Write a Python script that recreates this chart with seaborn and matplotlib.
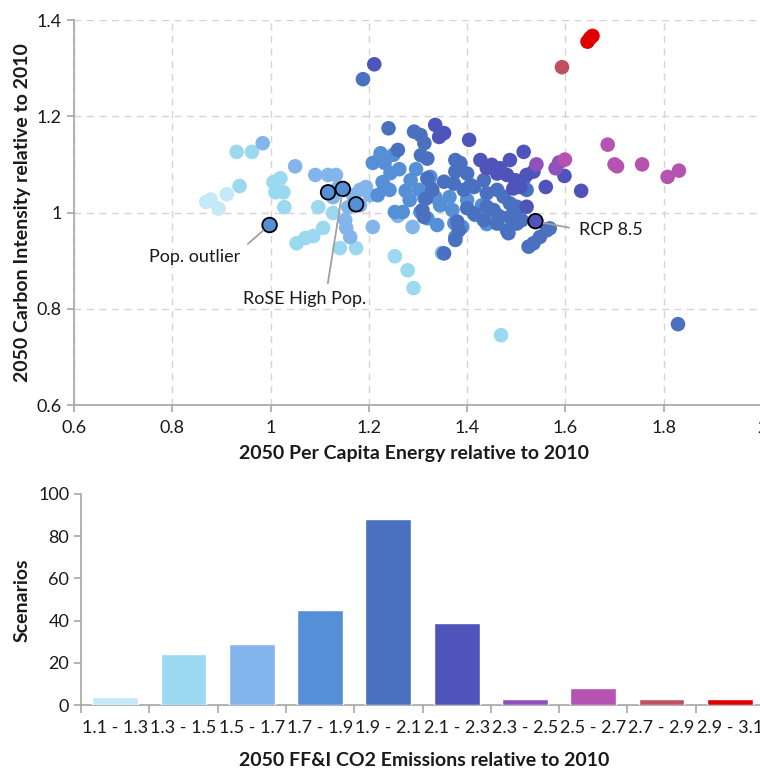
import matplotlib
matplotlib.use("Agg")
import matplotlib.pyplot as plt
import seaborn as sns
import pandas as pd
import numpy as np

# ---------------------------------------------------------------------------
# Emission bins (2050 FF&I CO2 relative to 2010) and scenario counts
bins = ["1.1 - 1.3", "1.3 - 1.5", "1.5 - 1.7", "1.7 - 1.9", "1.9 - 2.1",
        "2.1 - 2.3", "2.3 - 2.5", "2.5 - 2.7", "2.7 - 2.9", "2.9 - 3.1"]
counts = [4, 24, 29, 45, 88, 39, 3, 8, 3, 3]
bin_colors = ["#c5e9f7", "#9ad9f0", "#83b5ec", "#558fd6", "#4a71c0",
              "#4f54ba", "#8e52ba", "#b652b2", "#c04f5f", "#e00000"]

# Scenario points: (per-capita energy, carbon intensity), grouped by emission bin
pts_11_13 = [(0.869, 1.022), (0.878, 1.027), (0.894, 1.008), (0.911, 1.038)]
pts_13_15 = [(0.937, 1.055), (0.931, 1.126), (0.962, 1.126), (1.020, 1.071),
             (1.006, 1.063), (1.010, 1.042), (1.026, 1.042), (1.028, 1.011),
             (1.097, 1.011), (1.127, 0.999), (1.053, 0.936), (1.071, 0.947),
             (1.087, 0.951), (1.107, 0.968), (1.141, 0.926), (1.174, 0.926),
             (1.253, 0.909), (1.279, 0.880), (1.291, 0.843), (1.469, 0.745)]
pts_15_17 = [(0.984, 1.144), (1.050, 1.096), (1.091, 1.078), (1.117, 1.078),
             (1.133, 1.078), (1.137, 1.051), (1.127, 1.032), (1.158, 1.011),
             (1.152, 0.984), (1.154, 0.968), (1.162, 0.949), (1.182, 1.047),
             (1.194, 1.053), (1.208, 0.970), (1.259, 0.993), (1.289, 0.970),
             (1.349, 0.916), (1.168, 1.036), (1.202, 1.036), (1.182, 1.015)]
pts_17_19 = [(1.224, 1.116), (1.208, 1.103), (1.232, 1.053), (1.224, 1.123),
             (1.232, 1.103), (1.244, 1.082), (1.228, 1.063), (1.242, 1.047),
             (1.218, 1.036), (1.285, 1.067), (1.303, 1.047), (1.313, 1.030),
             (1.305, 1.001), (1.325, 1.074), (1.325, 1.053), (1.335, 1.032),
             (1.364, 1.032), (1.374, 0.978), (1.376, 0.949), (1.390, 0.970),
             (1.253, 1.001), (1.269, 1.001), (1.283, 1.026), (1.319, 0.988),
             (1.339, 0.974), (1.370, 1.005), (1.400, 1.026), (1.345, 1.015),
             (1.416, 0.995), (1.430, 1.015), (1.440, 0.976), (1.461, 0.995),
             (1.250, 1.120), (1.262, 1.090), (1.275, 1.045), (1.296, 1.090)]
pts_19_21 = [(1.188, 1.277), (1.829, 0.768), (1.240, 1.175), (1.259, 1.130),
             (1.292, 1.168), (1.305, 1.161), (1.313, 1.144), (1.306, 1.119),
             (1.319, 1.112), (1.376, 1.109), (1.386, 1.103), (1.376, 1.085),
             (1.400, 1.081), (1.353, 1.064), (1.373, 1.060), (1.393, 1.047),
             (1.407, 1.057), (1.400, 1.009), (1.380, 0.981), (1.383, 0.963),
             (1.376, 0.943), (1.319, 1.071), (1.329, 1.047), (1.316, 1.029),
             (1.309, 1.005), (1.312, 0.991), (1.414, 1.053), (1.434, 1.067),
             (1.440, 1.040), (1.461, 1.047), (1.474, 1.033), (1.487, 1.019),
             (1.501, 1.012), (1.440, 1.012), (1.454, 1.005), (1.467, 0.991),
             (1.487, 0.991), (1.501, 0.991), (1.414, 0.998), (1.434, 0.984),
             (1.461, 0.977), (1.481, 0.963), (1.501, 0.977), (1.511, 0.984),
             (1.562, 0.963), (1.548, 0.949), (1.535, 0.936), (1.525, 0.929),
             (1.568, 0.967), (1.484, 0.957), (1.353, 0.915), (1.521, 1.047),
             (1.514, 1.067)]
pts_21_23 = [(1.211, 1.308), (1.335, 1.182), (1.343, 1.157), (1.353, 1.165),
             (1.404, 1.151), (1.515, 1.126), (1.560, 1.053), (1.598, 1.076),
             (1.632, 1.045), (1.427, 1.109), (1.450, 1.099), (1.467, 1.092),
             (1.487, 1.109), (1.481, 1.078), (1.498, 1.067), (1.508, 1.053),
             (1.521, 1.078), (1.535, 1.085), (1.521, 1.012), (1.440, 1.092),
             (1.461, 1.081), (1.494, 1.050)]
pts_23_25 = [(1.541, 1.100), (1.587, 1.104), (1.580, 1.092)]
pts_25_27 = [(1.686, 1.141), (1.700, 1.100), (1.705, 1.096), (1.756, 1.100),
             (1.808, 1.074), (1.831, 1.087), (1.599, 1.110)]
pts_27_29 = [(1.593, 1.302)]
pts_29_31 = [(1.645, 1.355), (1.655, 1.367), (1.650, 1.362)]
groups = [pts_11_13, pts_13_15, pts_15_17, pts_17_19, pts_19_21,
          pts_21_23, pts_23_25, pts_25_27, pts_27_29, pts_29_31]

# Highlighted scenarios (outlined) and their bins
highlight_pts = [(0.998, 0.974), (1.117, 1.042), (1.147, 1.049), (1.174, 1.017),
                 (1.539, 0.982)]
highlight_bins = ["1.7 - 1.9", "1.7 - 1.9", "1.7 - 1.9", "1.7 - 1.9", "2.1 - 2.3"]

x_ticks = [0.6, 0.8, 1.0, 1.2, 1.4, 1.6, 1.8, 2.0]
x_ticklabels = ["0.6", "0.8", "1", "1.2", "1.4", "1.6", "1.8", "2"]
y_ticks = [0.6, 0.8, 1.0, 1.2, 1.4]
y_ticklabels = ["0.6", "0.8", "1", "1.2", "1.4"]

# ---------------------------------------------------------------------------
sns.set_theme(style="white")
plt.rcParams["font.family"] = ["Lato", "DejaVu Sans"]

rows = []
for b, g in zip(bins, groups):
    for x, y in g:
        rows.append({"energy": x, "intensity": y, "bin": b})
df = pd.DataFrame(rows)
df_hl = pd.DataFrame({"energy": [p[0] for p in highlight_pts],
                      "intensity": [p[1] for p in highlight_pts],
                      "bin": highlight_bins})
palette = dict(zip(bins, bin_colors))

fig = plt.figure(figsize=(7.6, 7.69), dpi=100)
ax1 = fig.add_axes([74 / 760, 1 - 405 / 769, 688 / 760, 385 / 769])
ax2 = fig.add_axes([81 / 760, 1 - 705 / 769, 683 / 760, 211 / 769])

axis_gray = "#a6a6a6"
text_col = "#1a1a1a"
tick_fs = 13
label_fs = 14

# --- scatter ---------------------------------------------------------------
sns.scatterplot(data=df, x="energy", y="intensity", hue="bin", hue_order=bins,
                palette=palette, s=110, linewidth=0, alpha=1, legend=False,
                ax=ax1, zorder=3)
sns.scatterplot(data=df_hl, x="energy", y="intensity", hue="bin",
                palette=palette, s=110, edgecolor="black", linewidth=1.3,
                legend=False, ax=ax1, zorder=4)

ax1.set_xlim(0.6, 2.0)
ax1.set_ylim(0.6, 1.4)
ax1.set_xticks(x_ticks)
ax1.set_xticklabels(x_ticklabels)
ax1.set_yticks(y_ticks)
ax1.set_yticklabels(y_ticklabels)
ax1.grid(True, linestyle=(0, (5, 4)), color="#d4d4d4", linewidth=1.0, zorder=0)
for side in ["top", "right"]:
    ax1.spines[side].set_visible(False)
for side in ["left", "bottom"]:
    ax1.spines[side].set_color(axis_gray)
    ax1.spines[side].set_linewidth(1.2)
ax1.tick_params(axis="x", which="major", direction="out", length=5,
                width=1.2, color=axis_gray, labelsize=tick_fs,
                labelcolor=text_col, bottom=True, pad=6)
ax1.tick_params(axis="y", which="major", direction="out", length=5,
                width=1.2, color=axis_gray, labelsize=tick_fs,
                labelcolor=text_col, left=True, pad=4)
ax1.set_xlabel("2050 Per Capita Energy relative to 2010", fontsize=label_fs,
               fontweight="bold", color=text_col)
ax1.set_ylabel("2050 Carbon Intensity relative to 2010", fontsize=label_fs,
               fontweight="bold", color=text_col)
ax1.xaxis.label.set_va("center")
ax1.yaxis.label.set_va("center")
ax1.xaxis.set_label_coords(0.494, -0.1247)
ax1.yaxis.set_label_coords(-0.075, 0.501)

lead = "#a0a0a0"
ax1.annotate("Pop. outlier", xy=(0.998, 0.974), xytext=(0.846, 0.9065),
             fontsize=13, color=text_col, ha="center", va="center",
             arrowprops=dict(arrowstyle="-", color=lead, lw=1.3,
                             shrinkA=4, shrinkB=6,
                             relpos=(1.0, 0.95)), zorder=5)
ax1.annotate("RoSE High Pop.", xy=(1.147, 1.049), xytext=(1.069, 0.821),
             fontsize=13, color=text_col, ha="center", va="center",
             arrowprops=dict(arrowstyle="-", color=lead, lw=1.3,
                             shrinkA=3, shrinkB=6,
                             relpos=(0.68, 1.0)), zorder=5)
ax1.annotate("RCP 8.5", xy=(1.539, 0.982), xytext=(1.628, 0.9626),
             fontsize=13, color=text_col, ha="left", va="center",
             arrowprops=dict(arrowstyle="-", color=lead, lw=1.3,
                             shrinkA=5, shrinkB=6,
                             relpos=(0.0, 0.55)), zorder=5)

# --- histogram of scenarios by emission bin --------------------------------
dfb = pd.DataFrame({"bin": bins, "count": counts})
sns.barplot(data=dfb, x="bin", y="count", hue="bin", palette=palette,
            order=bins, width=0.67, legend=False, saturation=1, ax=ax2,
            zorder=3)
ax2.set_xlim(-0.5, 9.5)
ax2.set_ylim(0, 100)
ax2.set_yticks([0, 20, 40, 60, 80, 100])
ax2.set_xticks(range(len(bins)))
ax2.set_xticklabels(bins)
ax2.set_xticks(np.arange(-0.5, 10.0, 1.0), minor=True)
for side in ["top", "right"]:
    ax2.spines[side].set_visible(False)
for side in ["left", "bottom"]:
    ax2.spines[side].set_color(axis_gray)
    ax2.spines[side].set_linewidth(1.2)
ax2.tick_params(axis="x", which="major", length=0, labelsize=tick_fs,
                labelcolor=text_col, pad=11)
ax2.tick_params(axis="x", which="minor", direction="out", length=6, width=1.2,
                color=axis_gray, bottom=True)
ax2.tick_params(axis="y", which="major", direction="out", length=5, width=1.2,
                color=axis_gray, labelsize=tick_fs, labelcolor=text_col,
                left=True)
ax2.set_xlabel("2050 FF&I CO2 Emissions relative to 2010", fontsize=label_fs,
               fontweight="bold", color=text_col)
ax2.set_ylabel("Scenarios", fontsize=label_fs, fontweight="bold",
               color=text_col)
ax2.xaxis.label.set_va("center")
ax2.yaxis.label.set_va("center")
ax2.xaxis.set_label_coords(0.502, -0.2607)
ax2.yaxis.set_label_coords(-0.0864, 0.4976)

fig.savefig("out.png", dpi=100)
